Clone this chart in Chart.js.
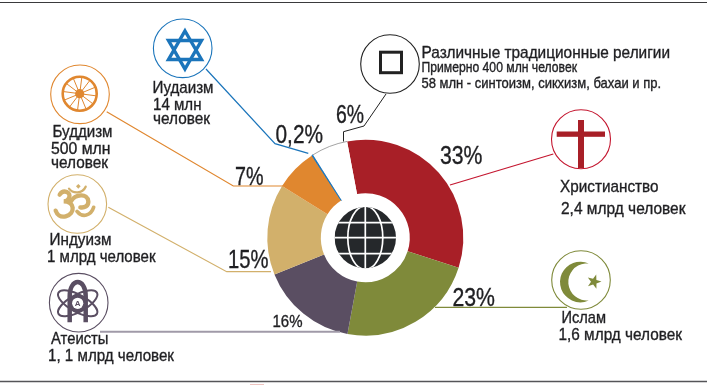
<!DOCTYPE html>
<html lang="ru">
<head>
<meta charset="UTF-8">
<title>Религии мира</title>
<script src="https://cdn.jsdelivr.net/npm/chart.js@4"></script>
<style>
  html, body { margin: 0; background: #fff; }
  canvas { display: block; }
</style>
</head>
<body>
<canvas id="chart" width="707" height="385"></canvas>
<script>
// values (sum is 100.2, as printed)
const religions = ['Христианство', 'Ислам', 'Атеисты', 'Индуизм', 'Буддизм', 'Иудаизм', 'Различные традиционные религии'];
const shares = [33, 23, 16, 15, 7, 0.2, 6];
const shareLabels = ['33%', '23%', '16%', '15%', '7%', '0,2%', '6%'];
const sliceColors = ['#a81f27', '#7f8a3a', '#5a4e62', '#d2b06b', '#e0872f', '#1b75bb', '#ffffff'];

const INK = '#1f1f22';
const FONT = '"Liberation Sans Narrow", "Liberation Sans", sans-serif';

// slice index, left x, baseline y, right x, font size
const sharePlaces = [
  [0, 440, 163.5, 482.5, 25], [1, 452.5, 305.5, 495, 25], [2, 272.5, 326.5, 302.5, 17],
  [3, 228, 267.5, 268.5, 25], [4, 235, 184.5, 263.5, 25], [5, 275.5, 142.5, 323, 25],
  [6, 336, 123, 364, 25]
];

// text, left x, baseline y, right x, font size
const texts = [
  ['Иудаизм', 152.5, 92.5, 213.5, 17], ['14 млн', 153, 110, 201.5, 17], ['человек', 153, 124, 210, 17],
  ['Буддизм', 52.5, 136.5, 112.5, 17], ['500 млн', 51, 153.5, 110.5, 17], ['человек', 51, 167.5, 108, 17],
  ['Индуизм', 49.5, 245, 111.5, 17], ['1 млрд человек', 47, 261.5, 155.5, 17],
  ['Атеисты', 51, 344, 108.5, 17], ['1, 1 млрд человек', 48, 360.5, 174, 17],
  ['Различные традиционные религии', 421.5, 57.5, 670, 17],
  ['Примерно 400 млн человек', 421.5, 71.5, 577, 14],
  ['58 млн - синтоизм, сикхизм, бахаи и пр.', 421.5, 87.5, 661, 14.5],
  ['Христианство', 560, 191.5, 658.5, 17], ['2,4 млрд человек', 561, 213.5, 685.5, 17],
  ['Ислам', 561.5, 322.5, 606, 17], ['1,6 млрд человек', 558.5, 340, 682, 17]
];

function line(ctx, pts, color, w) {
  ctx.strokeStyle = color;
  ctx.lineWidth = w;
  ctx.beginPath();
  pts.forEach((p, i) => i ? ctx.lineTo(p[0], p[1]) : ctx.moveTo(p[0], p[1]));
  ctx.stroke();
}

function ring(ctx, x, y, r, color, w) {
  ctx.strokeStyle = color;
  ctx.lineWidth = w;
  ctx.beginPath();
  ctx.arc(x, y, r, 0, Math.PI * 2);
  ctx.stroke();
}

function drawGlobe(ctx, x, y) {
  const r = 30.7;
  ctx.save();
  ctx.beginPath();
  ctx.arc(x, y, r, 0, Math.PI * 2);
  ctx.clip();
  ctx.fillStyle = '#25282b';
  ctx.fillRect(x - r, y - r, r * 2, r * 2);
  ctx.strokeStyle = '#fff';
  ctx.lineWidth = 1.7;
  ctx.beginPath();
  ctx.moveTo(x, y - r); ctx.lineTo(x, y + r);
  ctx.moveTo(x - r, y); ctx.lineTo(x + r, y);
  ctx.moveTo(x - r, y - 15); ctx.lineTo(x + r, y - 15);
  ctx.moveTo(x - r, y + 16); ctx.lineTo(x + r, y + 16);
  ctx.stroke();
  ctx.beginPath();
  ctx.ellipse(x, y, 17.5, r + 1, 0, 0, Math.PI * 2);
  ctx.stroke();
  ctx.restore();
}

function drawStar(ctx, x) {
  ctx.strokeStyle = '#1b75bb';
  ctx.lineWidth = 3.4;
  ctx.lineJoin = 'miter';
  [[31, 59.5], [69, 40.5]].forEach(t => {
    ctx.beginPath();
    ctx.moveTo(x, t[0]); ctx.lineTo(x + 16.5, t[1]); ctx.lineTo(x - 16.5, t[1]);
    ctx.closePath();
    ctx.stroke();
  });
}

function drawWheel(ctx, x, y) {
  const c = '#e0872f';
  ring(ctx, x, y, 17, c, 2.6);
  for (let i = 0; i < 12; i++) {
    const a = i * Math.PI / 6 + 0.13;
    line(ctx, [[x, y], [x + Math.cos(a) * 17, y + Math.sin(a) * 17]], c, 1);
  }
  ctx.fillStyle = c;
  ctx.beginPath();
  ctx.arc(x, y, 4.6, 0, Math.PI * 2);
  ctx.fill();
}

function drawOm(ctx) {
  // drawn in the 3x crop coordinates of the icon
  ctx.save();
  ctx.translate(45, 172);
  ctx.scale(1 / 3, 1 / 3);
  ctx.strokeStyle = '#d2b06b';
  ctx.fillStyle = '#d2b06b';
  ctx.lineCap = 'round';
  ctx.lineWidth = 13;
  ctx.beginPath();
  ctx.moveTo(44, 68);
  ctx.bezierCurveTo(56, 50, 80, 62, 72, 78);
  ctx.bezierCurveTo(68, 88, 60, 88, 56, 88);
  ctx.bezierCurveTo(90, 88, 92, 125, 62, 133);
  ctx.bezierCurveTo(46, 137, 36, 128, 32, 116);
  ctx.stroke();
  ctx.beginPath();
  ctx.moveTo(78, 88);
  ctx.bezierCurveTo(90, 66, 128, 62, 130, 88);
  ctx.bezierCurveTo(131, 102, 118, 108, 106, 106);
  ctx.stroke();
  ctx.lineWidth = 11;
  ctx.beginPath();
  ctx.moveTo(96, 118);
  ctx.bezierCurveTo(112, 138, 138, 132, 146, 106);
  ctx.stroke();
  ctx.lineWidth = 7;
  ctx.beginPath();
  ctx.moveTo(72, 50);
  ctx.bezierCurveTo(84, 66, 112, 66, 122, 44);
  ctx.stroke();
  ctx.beginPath();
  ctx.moveTo(100, 36); ctx.lineTo(107, 43); ctx.lineTo(100, 50); ctx.lineTo(93, 43);
  ctx.closePath();
  ctx.fill();
  ctx.restore();
}

function drawAtom(ctx, x, y) {
  const c = '#5a4e62';
  ctx.strokeStyle = c;
  ctx.lineWidth = 2;
  [0.5, -0.5].forEach(a => {
    ctx.beginPath();
    ctx.ellipse(x, y, 22, 8.5, a, 0, Math.PI * 2);
    ctx.stroke();
  });
  ctx.lineWidth = 4.5;
  ctx.beginPath();
  ctx.moveTo(x - 8, y + 19);
  ctx.lineTo(x - 8, y - 7);
  ctx.bezierCurveTo(x - 8, y - 26, x + 8, y - 26, x + 8, y - 7);
  ctx.lineTo(x + 8, y + 19);
  ctx.stroke();
  ctx.fillStyle = c;
  ctx.beginPath();
  ctx.arc(x, y, 9, 0, Math.PI * 2);
  ctx.fill();
  ctx.fillStyle = '#fff';
  ctx.beginPath();
  ctx.arc(x, y, 5.6, 0, Math.PI * 2);
  ctx.fill();
  ctx.fillStyle = c;
  ctx.font = 'bold 8px ' + FONT;
  ctx.textAlign = 'center';
  ctx.fillText('A', x, y + 3);
  ctx.textAlign = 'left';
}

function drawCrescent(ctx) {
  ctx.fillStyle = '#7f8a3a';
  const oa = Math.atan2(18.5, 8.4);
  const ia = Math.atan2(18.5, 1.8);
  ctx.beginPath();
  ctx.arc(580.3, 282, 20.3, -oa, oa, true);
  ctx.arc(586.9, 282, 18.6, ia, -ia, false);
  ctx.closePath();
  ctx.fill();
  ctx.beginPath();
  for (let i = 0; i < 10; i++) {
    const a = -Math.PI / 2 + i * Math.PI / 5 + 0.3;
    const r = i % 2 ? 3 : 7.5;
    ctx.lineTo(594 + Math.cos(a) * r, 281.7 + Math.sin(a) * r);
  }
  ctx.closePath();
  ctx.fill();
}

function drawText(ctx, text, x, y, right, size) {
  ctx.font = size + 'px ' + FONT;
  const k = (right - x) / ctx.measureText(text).width;
  ctx.save();
  ctx.translate(x, y);
  ctx.scale(k, 1);
  ctx.fillText(text, 0, 0);
  ctx.strokeText(text, 0, 0);
  ctx.restore();
}

const overlay = {
  id: 'overlay',
  beforeDraw(chart) {
    const ctx = chart.ctx;
    ctx.save();
    ctx.fillStyle = '#fff';
    ctx.fillRect(0, 0, chart.width, chart.height);
    ctx.restore();
  },
  afterDraw(chart) {
    const ctx = chart.ctx;
    const arcs = chart.getDatasetMeta(0).data;
    ctx.save();

    // page rules
    line(ctx, [[0, 2.5], [707, 2.5]], '#3a3a3c', 1.2);
    line(ctx, [[0, 381.5], [707, 381.5]], '#555558', 1.4);
    line(ctx, [[250, 384.5], [264, 384.5]], '#eec4c0', 1);

    // thin rim of the white slice
    const w = arcs[6];
    ctx.strokeStyle = '#8c8c8c';
    ctx.lineWidth = 0.8;
    ctx.beginPath();
    ctx.arc(w.x, w.y, w.outerRadius, w.startAngle, w.endAngle);
    ctx.stroke();

    // leader lines
    line(ctx, [[206, 69], [275, 143.7], [308.3, 153.3]], '#1b75bb', 1.2);
    line(ctx, [[106.7, 111.7], [233.3, 186], [283, 186]], '#e0872f', 1.2);
    line(ctx, [[108.3, 207.3], [226.7, 271.7], [271, 271.7]], '#d2b06b', 1.2);
    line(ctx, [[100, 331.7], [340, 331.7]], '#a09aa8', 2);
    line(ctx, [[435, 307.3], [567, 307.3]], '#7f8a3a', 1.2);
    line(ctx, [[553.3, 154], [450, 185]], '#c4162f', 1.2);
    line(ctx, [[386, 94], [364, 126], [343.5, 131.7], [343.5, 141.5]], '#222', 1);

    // icon circles
    ring(ctx, 182.7, 48.3, 29.3, '#1b75bb', 1.1);
    ring(ctx, 80, 94.3, 29.3, '#e0872f', 1.1);
    ring(ctx, 77.3, 204, 29.3, '#d2b06b', 1.1);
    ring(ctx, 78.7, 302.7, 29.3, '#5a4e62', 1.1);
    ring(ctx, 581, 280, 29.3, '#7f8a3a', 1.1);
    ring(ctx, 581, 139.3, 29.5, '#c4162f', 1.1);
    ring(ctx, 390, 64, 29.3, '#222', 1.1);

    // icons
    drawGlobe(ctx, w.x, w.y);
    drawStar(ctx, 185);
    drawWheel(ctx, 79.7, 93.7);
    drawOm(ctx);
    drawAtom(ctx, 77.7, 303.3);
    drawCrescent(ctx);
    ctx.fillStyle = '#a81f27';
    ctx.fillRect(578, 120, 6, 48);
    ctx.fillRect(556.7, 131.5, 48.3, 5.3);
    ctx.strokeStyle = '#222';
    ctx.lineWidth = 3;
    ctx.strokeRect(380.5, 52.2, 21, 20.5);

    // text, squeezed to the width it has in the picture
    ctx.fillStyle = INK;
    ctx.strokeStyle = INK;
    ctx.lineWidth = 0.35;
    ctx.textBaseline = 'alphabetic';
    sharePlaces.forEach(p => drawText(ctx, shareLabels[p[0]], p[1], p[2], p[3], p[4]));
    texts.forEach(t => drawText(ctx, t[0], t[1], t[2], t[3], t[4]));
    ctx.restore();
  }
};

new Chart(document.getElementById('chart'), {
  type: 'doughnut',
  data: {
    labels: religions,
    datasets: [{
      data: shares,
      backgroundColor: sliceColors,
      borderWidth: [0, 0, 0, 0, 0, 1, 0],
      borderColor: '#1b75bb'
    }]
  },
  options: {
    responsive: false,
    animation: false,
    rotation: -10.7,
    cutout: '45.4%',
    layout: { padding: { left: 266.8, top: 139.2, right: 243.2, bottom: 48.8 } },
    plugins: { legend: { display: false }, tooltip: { enabled: false } }
  },
  plugins: [overlay]
});
</script>
</body>
</html>
